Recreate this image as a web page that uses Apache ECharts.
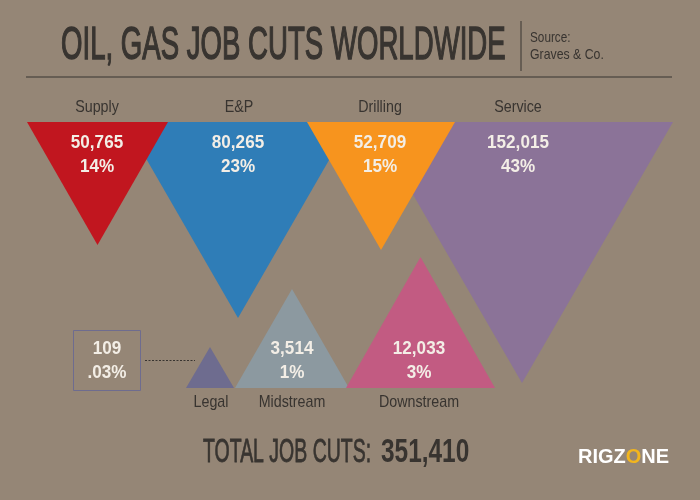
<!DOCTYPE html>
<html><head><meta charset="utf-8">
<script src="https://cdn.jsdelivr.net/npm/echarts@6/dist/echarts.min.js"></script>
<style>html,body{margin:0;padding:0;background:#958676}#c{width:700px;height:500px}</style>
</head><body><div id="c"></div>
<script>
// ---- data ----
const categories = ['Supply', 'E&P', 'Drilling', 'Service', 'Legal', 'Midstream', 'Downstream'];
const jobCuts = [50765, 80265, 52709, 152015, 109, 3514, 12033];
const shareLabels = ['14%', '23%', '15%', '43%', '.03%', '1%', '3%'];
const titleText = 'OIL, GAS JOB CUTS WORLDWIDE';
const sourceText = 'Graves & Co.';

// ---- layout (infographic geometry, not data) ----
const colors = ['#C1161F', '#2F7DB7', '#F7941E', '#8B7398', '#6E6C8F', '#8C99A0', '#C25B82'];
const shapeCx = [97.5, 238, 381, 522, 210, 292, 420.5];
const shapeBase = [122, 122, 122, 122, 388, 388, 388];
const shapeW = [141, 226, 148, 302, 48, 114, 149];
const shapeH = [123, 196, 128, 261, 41, 99, 131];
const shapeDir = [1, 1, 1, 1, -1, -1, -1];
const valueX = [97, 238, 380, 518, 107, 292, 419];
const valueY = [155, 155, 155, 155, 361.5, 361.5, 361.5];
const nameX = [97, 239, 380, 518, 211, 292, 419];
const nameY = [107, 107, 107, 107, 402, 402, 402];
const drawOrder = [1, 3, 0, 2, 4, 5, 6];

const fmt = v => v.toLocaleString('en-US');
const total = jobCuts.reduce((a, b) => a + b, 0);
const dark = '#383430';
const light = '#F3EEE6';
const sans = "'Liberation Sans', Arial, sans-serif";

const chart = echarts.init(document.getElementById('c'), null, {renderer: 'canvas'});

function renderItem(params, api) {
  const i = api.value(0);
  const cx = shapeCx[i], b = shapeBase[i], w = shapeW[i], h = shapeH[i], d = shapeDir[i];
  const p1 = api.coord([cx - w / 2, b]);
  const p2 = api.coord([cx + w / 2, b]);
  const p3 = api.coord([cx, b + d * h]);
  const children = [{
    type: 'polygon',
    shape: {points: [p1, p2, p3]},
    style: {fill: colors[i]}
  }];
  const vp = api.coord([valueX[i], valueY[i]]);
  children.push({
    type: 'text', x: vp[0], y: vp[1], scaleX: 0.95,
    style: {text: fmt(jobCuts[i]) + '\n' + shareLabels[i], fill: light, font: 'bold 18px ' + sans,
      align: 'center', verticalAlign: 'middle', textAlign: 'center', textVerticalAlign: 'middle', lineHeight: 24},
    z2: 10
  });
  const np = api.coord([nameX[i], nameY[i]]);
  children.push({
    type: 'text', x: np[0], y: np[1], scaleX: 0.84,
    style: {text: categories[i], fill: dark, font: '17px ' + sans,
      align: 'center', verticalAlign: 'middle', textAlign: 'center', textVerticalAlign: 'middle'},
    z2: 10
  });
  return {type: 'group', children: children};
}

const legalIdx = 4;
const L = {align: 'left', verticalAlign: 'middle', textAlign: 'left', textVerticalAlign: 'middle'};

chart.setOption({
  backgroundColor: '#958676',
  animation: false,
  grid: {left: 0, right: 0, top: 0, bottom: 0, containLabel: false},
  xAxis: {type: 'value', min: 0, max: 700, show: false},
  yAxis: {type: 'value', min: 0, max: 500, inverse: true, show: false},
  series: [{
    type: 'custom',
    renderItem: renderItem,
    data: drawOrder.map(i => [i]),
    encode: {x: -1, y: -1}
  }],
  graphic: [
    {type: 'text', x: 61, y: 46, scaleX: 0.6,
      style: Object.assign({text: titleText, fill: dark, stroke: dark, lineWidth: 1.4, font: '46px ' + sans}, L)},
    {type: 'line', shape: {x1: 521, y1: 21, x2: 521, y2: 71}, style: {stroke: dark, lineWidth: 1}},
    {type: 'text', x: 530, y: 38, scaleX: 0.84,
      style: Object.assign({text: 'Source:', fill: dark, font: '14px ' + sans}, L)},
    {type: 'text', x: 530, y: 55, scaleX: 0.82,
      style: Object.assign({text: sourceText, fill: dark, font: '15px ' + sans}, L)},
    {type: 'line', shape: {x1: 26, y1: 77, x2: 672, y2: 77}, style: {stroke: dark, lineWidth: 1.2}},
    {type: 'rect', shape: {x: 73.5, y: 330.5, width: 67, height: 60}, style: {fill: 'none', stroke: colors[legalIdx], lineWidth: 1}},
    {type: 'line', shape: {x1: 145, y1: 360.5, x2: 195, y2: 360.5}, style: {stroke: dark, lineWidth: 1, lineDash: [2, 1.5]}},
    {type: 'text', x: 203, y: 453, scaleX: 0.59,
      style: Object.assign({text: 'TOTAL JOB CUTS:', fill: dark, stroke: dark, lineWidth: 0.8, font: '33px ' + sans}, L)},
    {type: 'text', x: 381, y: 453, scaleX: 0.74,
      style: Object.assign({text: fmt(total), fill: dark, font: 'bold 33px ' + sans}, L)},
    {type: 'text', x: 578, y: 457,
      style: Object.assign({text: '{w|RIGZ}{o|O}{w|NE}', font: 'bold 20px ' + sans,
        rich: {w: {fill: '#FFFFFF', font: 'bold 20px ' + sans}, o: {fill: '#F2B51E', font: 'bold 20px ' + sans}}}, L)}
  ]
});
</script></body></html>
